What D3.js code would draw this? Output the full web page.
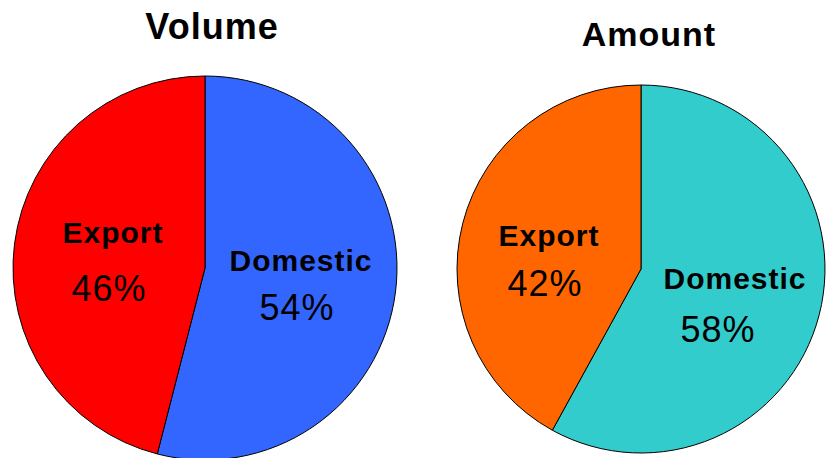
<!DOCTYPE html>
<html>
<head>
<meta charset="utf-8">
<script src="https://cdn.jsdelivr.net/npm/d3@7"></script>
<style>
  html, body { margin: 0; padding: 0; background: #fff; }
  svg { display: block; }
  text { font-family: "Liberation Sans", Arial, sans-serif; letter-spacing: 1px; }
</style>
</head>
<body>
<svg id="chart" width="826" height="458"></svg>
<script>
// Share of sales by market, two breakdowns
const categories = ["Domestic", "Export"];
const volumeValues = [54, 46];
const amountValues = [58, 42];
const chartTitles = ["Volume", "Amount"];

const volumeColors = ["#3366FF", "#FF0000"];
const amountColors = ["#33CCCC", "#FF6600"];

// Layout for each pie: centre, radius, title and label placement (offsets from centre)
const pies = [
  {
    title: chartTitles[0], values: volumeValues, colors: volumeColors,
    cx: 205, cy: 268, r: 192,
    titleX: 212, titleY: 39, titleSize: 36,
    labels: [ { dx: 96, nameY: 3, pctY: 52, pctDx: 92 }, { dx: -92, nameY: -25, pctY: 33, pctDx: -96 } ]
  },
  {
    title: chartTitles[1], values: amountValues, colors: amountColors,
    cx: 641, cy: 269, r: 184,
    titleX: 649, titleY: 46, titleSize: 34,
    labels: [ { dx: 94, nameY: 20, pctY: 73, pctDx: 77 }, { dx: -92, nameY: -23, pctY: 27, pctDx: -96 } ]
  }
];

const svg = d3.select("#chart");

pies.forEach(p => {
  const data = categories.map((c, i) => ({ name: c, value: p.values[i], color: p.colors[i] }));
  const pie = d3.pie().sort(null).value(d => d.value);
  const arc = d3.arc().innerRadius(0).outerRadius(p.r);

  const g = svg.append("g").attr("transform", `translate(${p.cx},${p.cy})`);

  g.selectAll("path")
    .data(pie(data))
    .join("path")
    .attr("d", arc)
    .attr("fill", d => d.data.color)
    .attr("stroke", "#000")
    .attr("stroke-width", 1)
    .attr("stroke-linejoin", "round");

  svg.append("text")
    .attr("x", p.titleX)
    .attr("y", p.titleY)
    .attr("text-anchor", "middle")
    .attr("font-weight", "bold")
    .attr("font-size", p.titleSize)
    .attr("fill", "#000")
    .text(p.title);

  data.forEach((d, i) => {
    const L = p.labels[i];
    g.append("text")
      .attr("x", L.dx)
      .attr("y", L.nameY)
      .attr("text-anchor", "middle")
      .attr("font-weight", "bold")
      .attr("font-size", 30)
      .attr("fill", "#000")
      .text(d.name);
    g.append("text")
      .attr("x", L.pctDx)
      .attr("y", L.pctY)
      .attr("text-anchor", "middle")
      .attr("font-size", 36)
      .attr("fill", "#000")
      .text(d.value + "%");
  });
});
</script>
</body>
</html>
